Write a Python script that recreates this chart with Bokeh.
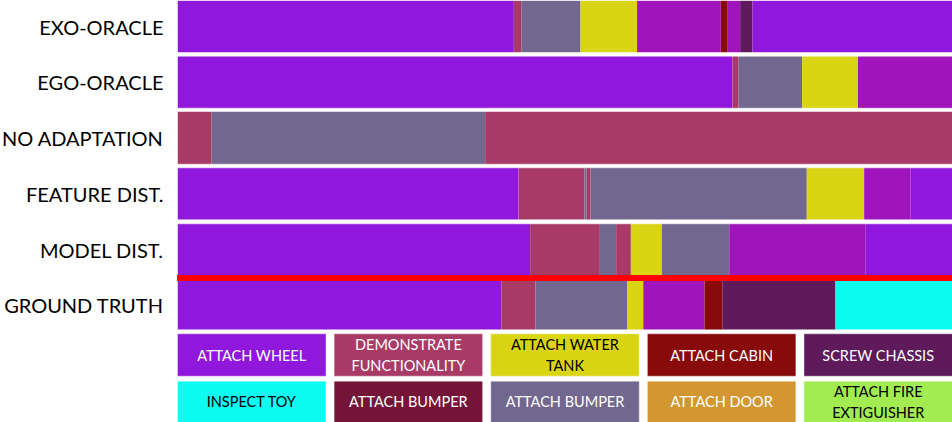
from bokeh.plotting import figure
from bokeh.models import Range1d, ColumnDataSource
from bokeh.core.properties import value
from bokeh.embed import file_html
from bokeh.resources import INLINE

# ---------------- data ----------------
row_names = ["EXO-ORACLE", "EGO-ORACLE", "NO ADAPTATION", "FEATURE DIST.", "MODEL DIST.", "GROUND TRUTH"]

# segment end points (percent of video length) and action class of each segment
exo_ends = [43.4, 44.4, 52.0, 59.3, 70.1, 71.0, 72.6, 74.2, 100]
exo_cls = ["W", "D", "B2", "T", "M", "C", "M", "S", "W"]
ego_ends = [71.6, 72.4, 80.6, 87.8, 100]
ego_cls = ["W", "D", "B2", "T", "M"]
noad_ends = [4.4, 39.7, 100]
noad_cls = ["D", "B2", "D"]
feat_ends = [44.0, 52.5, 52.8, 53.3, 81.2, 88.6, 94.6, 100]
feat_cls = ["W", "D", "B2", "D", "B2", "T", "M", "W"]
model_ends = [45.5, 54.5, 56.6, 58.5, 62.5, 71.2, 88.8, 100]
model_cls = ["W", "D", "B2", "D", "T", "B2", "M", "W"]
gt_ends = [41.8, 46.2, 58.0, 60.1, 68.0, 70.3, 84.9, 100]
gt_cls = ["W", "D", "B2", "T", "M", "C", "S", "I"]

row_ends = [exo_ends, ego_ends, noad_ends, feat_ends, model_ends, gt_ends]
row_cls = [exo_cls, ego_cls, noad_cls, feat_cls, model_cls, gt_cls]

class_colors = {
    "W": "#9018DC", "D": "#A83B66", "T": "#D9D414", "C": "#880A0A", "S": "#5E1A5A",
    "I": "#0DFBF1", "B1": "#741538", "B2": "#72688F", "DR": "#D29731", "F": "#A2EC52",
    "M": "#A014BB",
}
legend_keys = ["W", "D", "T", "C", "S", "I", "B1", "B2", "DR", "F"]
legend_labels = ["ATTACH WHEEL", "DEMONSTRATE\nFUNCTIONALITY", "ATTACH WATER\nTANK", "ATTACH CABIN",
                 "SCREW CHASSIS", "INSPECT TOY", "ATTACH BUMPER", "ATTACH BUMPER", "ATTACH DOOR",
                 "ATTACH FIRE\nEXTIGUISHER"]
legend_text_colors = ["white", "white", "black", "white", "white", "black", "white", "white", "white", "black"]

# ---------------- layout (reference pixel units vertically) ----------------
row_top = [0, 55.7, 111, 167.3, 223.3, 280]
row_bot = [52, 107.7, 163.7, 219.3, 275, 329.3]
leg_top = [333.3, 380.7]
leg_bot = [375.7, 422]
PX = 7.75  # px per percent

p = figure(width=952, height=422, x_range=Range1d(-177 / PX, 100), y_range=Range1d(422, 0),
           output_backend="svg", toolbar_location=None, min_border=0,
           x_axis_type=None, y_axis_type=None)
p.grid.visible = False
p.outline_line_color = None
p.background_fill_color = "white"
p.border_fill_color = "white"

# segments
L, R, T, B, C = [], [], [], [], []
for i, (ends, cls) in enumerate(zip(row_ends, row_cls)):
    starts = [0] + ends[:-1]
    for s, e, c in zip(starts, ends, cls):
        L.append(s); R.append(e); T.append(row_top[i]); B.append(row_bot[i]); C.append(class_colors[c])
p.quad(left="left", right="right", top="top", bottom="bottom", fill_color="color", line_color=None,
       source=ColumnDataSource(dict(left=L, right=R, top=T, bottom=B, color=C)))
# row outlines
p.quad(left=[0] * 6, right=[100] * 6, top=row_top, bottom=row_bot, fill_alpha=0,
       line_color="white", line_alpha=0.5, line_width=1)

# red separator
p.quad(left=[0], right=[100], top=[row_bot[4]], bottom=[row_top[5]], fill_color="#FF0000", line_color="#FF0000")

# row labels
p.text(x=[0] * 6, y=[(a + b) / 2 for a, b in zip(row_top, row_bot)], text=row_names,
       x_offset=-14, text_align="right", text_baseline="middle", text_color="black",
       text_font=value("Lato"), text_font_size="20px")

# legend boxes
box_w = 19.16
pitch = (100 - box_w) / 4
lL, lR, lT, lB, lC, tx, ty = [], [], [], [], [], [], []
for k, key in enumerate(legend_keys):
    r, c = divmod(k, 5)
    lL.append(c * pitch); lR.append(c * pitch + box_w)
    lT.append(leg_top[r]); lB.append(leg_bot[r]); lC.append(class_colors[key])
    tx.append(c * pitch + box_w / 2); ty.append((leg_top[r] + leg_bot[r]) / 2)
p.quad(left=lL, right=lR, top=lT, bottom=lB, fill_color=lC, line_color="white", line_alpha=0.4)
p.text(x=tx, y=ty, text=legend_labels, text_color=legend_text_colors, text_align="center",
       text_baseline="middle", text_font=value("Lato"), text_font_size="14.5px",
       text_line_height=1.2)

open("out.html", "w").write(file_html(p, INLINE))
